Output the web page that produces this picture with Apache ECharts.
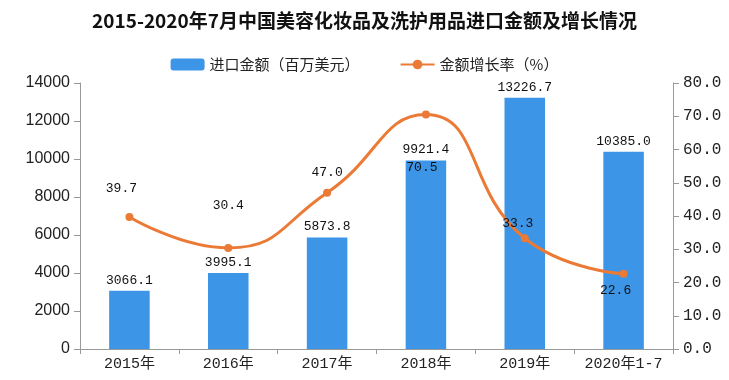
<!DOCTYPE html>
<html><head><meta charset="utf-8">
<script src="https://cdn.jsdelivr.net/npm/echarts@6/dist/echarts.min.js"></script>
<style>html,body{margin:0;padding:0;background:#fff}#c{width:729px;height:380px}</style>
</head><body><div id="c"></div>
<script>
const categories = ['2015年','2016年','2017年','2018年','2019年','2020年1-7'];
const importValues = [3066.1, 3995.1, 5873.8, 9921.4, 13226.7, 10385.0];
const growthRates = [39.7, 30.4, 47.0, 70.5, 33.3, 22.6];
const leftTicks = [0, 14000, 2000];
const rightTicks = [0, 80, 10];

const lineLabelStyles = [
  {position:'top', distance:18, offset:[-8,0]},
  {position:'top', distance:32},
  {position:'top', distance:10},
  {position:'bottom', distance:42, offset:[-4,0]},
  {position:'top', distance:4, offset:[-7,0]},
  {position:'bottom', distance:6, offset:[-8,0]}
];
const mono = '"Liberation Mono","Noto Sans CJK SC",monospace';
const chart = echarts.init(document.getElementById('c'));
chart.setOption({
  animation:false,
  title:{text:'2015-2020年7月中国美容化妆品及洗护用品进口金额及增长情况', left:'center', top:6,
    textStyle:{fontFamily:'"Noto Sans CJK SC"', fontWeight:'bold', fontSize:19, color:'#111'}},
  legend:{top:52, left:'center', itemGap:40, itemWidth:34, itemHeight:12,
    textStyle:{fontFamily:'"Noto Sans CJK SC"', fontSize:15, color:'#222'},
    data:['进口金额（百万美元）','金额增长率（%）']},
  grid:{left:80, right:56, top:83, bottom:31},
  xAxis:{type:'category', data:categories, boundaryGap:true,
    axisLine:{lineStyle:{color:'#999'}}, axisTick:{show:true, alignWithLabel:false, length:5, lineStyle:{color:'#999'}},
    axisLabel:{interval:0, fontFamily:mono, fontSize:15, color:'#222', margin:8}},
  yAxis:[
    {type:'value', min:leftTicks[0], max:leftTicks[1], interval:leftTicks[2], splitLine:{show:false},
      axisLine:{show:true, lineStyle:{color:'#999'}}, axisTick:{show:true, length:6, lineStyle:{color:'#999'}},
      axisLabel:{fontFamily:'"Liberation Sans",Arial', fontSize:16, color:'#222', margin:10, formatter:v=>String(v)}},
    {type:'value', min:rightTicks[0], max:rightTicks[1], interval:rightTicks[2], splitLine:{show:false},
      axisLine:{show:true, lineStyle:{color:'#999'}}, axisTick:{show:true, length:6, lineStyle:{color:'#999'}},
      axisLabel:{fontFamily:mono, fontSize:16, color:'#222', margin:10, formatter:v=>v.toFixed(1)}}
  ],
  series:[
    {name:'进口金额（百万美元）', type:'bar', data:importValues, barWidth:'41%', yAxisIndex:0,
      itemStyle:{color:'#3c95e6'},
      label:{show:true, position:'top', distance:4, fontFamily:mono, fontSize:13, color:'#111', formatter:p=>p.value.toFixed(1)}},
    {name:'金额增长率（%）', type:'line', yAxisIndex:1, smooth:true, symbol:'circle', symbolSize:8,
      lineStyle:{color:'#ea7a35', width:3}, itemStyle:{color:'#ea7a35'},
      data:growthRates.map((v,i)=>({value:v, label:lineLabelStyles[i]})),
      label:{show:true, fontFamily:mono, fontSize:13, color:'#111', formatter:p=>p.value.toFixed(1)}}
  ]
});
</script></body></html>
